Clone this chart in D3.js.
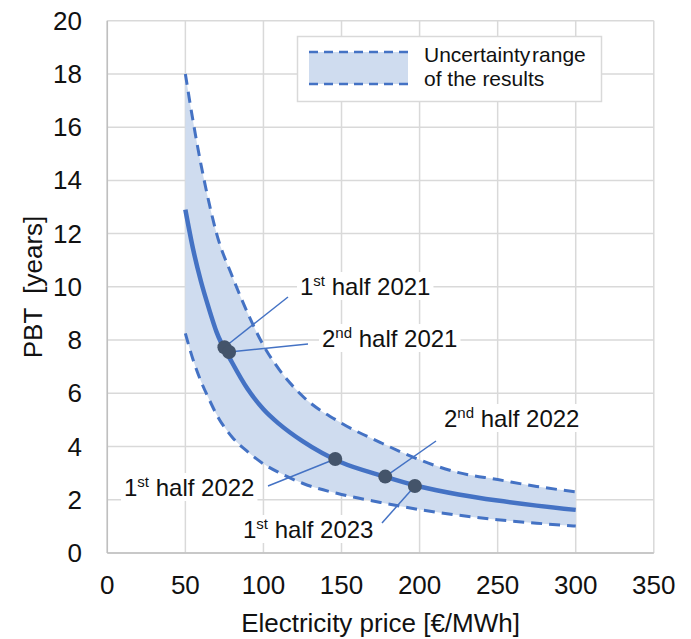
<!DOCTYPE html>
<html>
<head>
<meta charset="utf-8">
<script src="https://cdn.jsdelivr.net/npm/d3@7"></script>
<style>
  body { margin: 0; background: #fff; }
  text { font-family: "Liberation Sans", Arial, sans-serif; fill: #111; }
</style>
</head>
<body>
<svg id="chart" width="691" height="639"></svg>
<script>
// values
var xTicks = [0, 50, 100, 150, 200, 250, 300, 350];
var yTicks = [0, 2, 4, 6, 8, 10, 12, 14, 16, 18, 20];

var price   = [50, 55, 60, 65, 70, 80, 90, 100, 110, 125, 150, 175, 200, 225, 250, 275, 300];
var pbtMid  = [12.9, 11.4, 10.2, 9.2, 8.3, 7.15, 6.15, 5.4, 4.85, 4.2, 3.4, 2.92, 2.5, 2.2, 1.97, 1.78, 1.62];
var pbtHigh = [18.0, 16.2, 14.6, 13.2, 12.0, 10.4, 9.0, 7.8, 6.9, 5.9, 4.88, 4.15, 3.5, 3.02, 2.76, 2.5, 2.3];
var pbtLow  = [8.25, 7.25, 6.45, 5.8, 5.2, 4.35, 3.8, 3.35, 3.02, 2.62, 2.2, 1.9, 1.63, 1.42, 1.25, 1.12, 1.01];

var periodNames = ["1st half 2021", "2nd half 2021", "1st half 2022", "2nd half 2022", "1st half 2023"];
var periodPrice = [75, 78, 146, 178, 197];
var periodPBT   = [7.73, 7.55, 3.53, 2.87, 2.52];

// label placement (pixels): text start, baseline, leader start
var labelPos = [
  { tx: 300, ty: 295, lx: 288, ly: 297 },
  { tx: 322, ty: 347, lx: 308, ly: 344 },
  { tx: 124, ty: 496, lx: 268, ly: 486 },
  { tx: 444, ty: 427, lx: 436, ly: 441 },
  { tx: 243, ty: 538, lx: 382, ly: 523 }
];

var blue = "#4472c4", band = "#cfdcef", grid = "#d9d9d9", dot = "#44546a";

var svg = d3.select("#chart");
var plotL = 107.3, plotR = 653.8, plotT = 20.7, plotB = 553;

var x = d3.scaleLinear().domain([0, 350]).range([plotL, plotR]);
var y = d3.scaleLinear().domain([0, 20]).range([plotB, plotT]);

// grid
svg.append("g").selectAll("line").data(yTicks).enter().append("line")
  .attr("x1", plotL).attr("x2", plotR)
  .attr("y1", function(d) { return y(d); }).attr("y2", function(d) { return y(d); })
  .style("stroke", grid).style("stroke-width", 1.5);
svg.append("g").selectAll("line").data(xTicks).enter().append("line")
  .attr("y1", plotT).attr("y2", plotB)
  .attr("x1", function(d) { return x(d); }).attr("x2", function(d) { return x(d); })
  .style("stroke", grid).style("stroke-width", 1.5);
svg.append("line").attr("x1", plotL).attr("x2", plotL).attr("y1", plotT).attr("y2", plotB)
  .style("stroke", "#bfbfbf").style("stroke-width", 1.5);
svg.append("line").attr("x1", plotL).attr("x2", plotR).attr("y1", plotB).attr("y2", plotB)
  .style("stroke", "#bfbfbf").style("stroke-width", 1.5);

// tick labels
svg.append("g").selectAll("text").data(yTicks).enter().append("text")
  .attr("x", 82).attr("y", function(d) { return y(d) + 9; })
  .attr("text-anchor", "end").style("font-size", "26px")
  .text(function(d) { return d; });
svg.append("g").selectAll("text").data(xTicks).enter().append("text")
  .attr("x", function(d) { return x(d); }).attr("y", 594)
  .attr("text-anchor", "middle").style("font-size", "26px")
  .text(function(d) { return d; });

// axis titles
svg.append("text").attr("x", (plotL + plotR) / 2).attr("y", 632)
  .attr("text-anchor", "middle").style("font-size", "26px")
  .text("Electricity price [€/MWh]");
svg.append("text").attr("transform", "translate(42,287) rotate(-90)")
  .attr("text-anchor", "middle").style("font-size", "26px")
  .style("white-space", "pre").text("PBT  [years]");

var rows = price.map(function(p, i) {
  return { p: p, mid: pbtMid[i], hi: pbtHigh[i], lo: pbtLow[i] };
});

// uncertainty band
var area = d3.area().curve(d3.curveMonotoneX)
  .x(function(d) { return x(d.p); })
  .y0(function(d) { return y(d.lo); })
  .y1(function(d) { return y(d.hi); });
svg.append("path").datum(rows).attr("d", area).style("fill", band);

function curve(key) {
  return d3.line().curve(d3.curveMonotoneX)
    .x(function(d) { return x(d.p); })
    .y(function(d) { return y(d[key]); });
}
svg.append("path").datum(rows).attr("d", curve("hi"))
  .style("fill", "none").style("stroke", blue).style("stroke-width", 3)
  .style("stroke-dasharray", "11,7");
svg.append("path").datum(rows).attr("d", curve("lo"))
  .style("fill", "none").style("stroke", blue).style("stroke-width", 3)
  .style("stroke-dasharray", "11,7");
svg.append("path").datum(rows).attr("d", curve("mid"))
  .style("fill", "none").style("stroke", blue).style("stroke-width", 4.5);

// annotations
var periods = periodNames.map(function(n, i) {
  return { name: n, p: periodPrice[i], v: periodPBT[i], pos: labelPos[i] };
});

svg.append("g").selectAll("line").data(periods).enter().append("line")
  .attr("x1", function(d) { return d.pos.lx; }).attr("y1", function(d) { return d.pos.ly; })
  .attr("x2", function(d) { return x(d.p); }).attr("y2", function(d) { return y(d.v); })
  .style("stroke", blue).style("stroke-width", 1.5);

svg.append("g").selectAll("circle").data(periods).enter().append("circle")
  .attr("cx", function(d) { return x(d.p); }).attr("cy", function(d) { return y(d.v); })
  .attr("r", 7).style("fill", dot);

var labels = svg.append("g").selectAll("g").data(periods).enter().append("g");
labels.each(function(d) {
  var g = d3.select(this);
  var bg = g.append("rect").style("fill", "#fff");
  var t = g.append("text").attr("x", d.pos.tx).attr("y", d.pos.ty)
    .style("font-size", "24px").style("white-space", "pre");
  var parts = d.name.split(" ");           // e.g. "1st", "half", "2021"
  var num = parts[0].replace(/\D+$/, ""), sup = parts[0].slice(num.length);
  t.append("tspan").text(num);
  t.append("tspan").attr("dy", -9).style("font-size", "15px").text(sup);
  t.append("tspan").attr("dy", 9).text(" half " + parts[2]);
  var b = t.node().getBBox();
  bg.attr("x", b.x - 3).attr("y", b.y).attr("width", b.width + 6).attr("height", b.height);
});

// legend
var lg = svg.append("g");
lg.append("rect").attr("x", 297.5).attr("y", 36.5).attr("width", 304).attr("height", 65)
  .style("fill", "#fff").style("stroke", grid).style("stroke-width", 1.5);
lg.append("rect").attr("x", 309).attr("y", 52).attr("width", 99).attr("height", 32)
  .style("fill", band);
[52, 84].forEach(function(yy) {
  lg.append("line").attr("x1", 309).attr("x2", 408).attr("y1", yy).attr("y2", yy)
    .style("stroke", blue).style("stroke-width", 2.5).style("stroke-dasharray", "9,6");
});
lg.append("text").attr("x", 424).attr("y", 62).style("font-size", "21px")
  .style("word-spacing", "-4px").text("Uncertainty range");
lg.append("text").attr("x", 424).attr("y", 86).style("font-size", "21px")
  .text("of the results");
</script>
</body>
</html>
